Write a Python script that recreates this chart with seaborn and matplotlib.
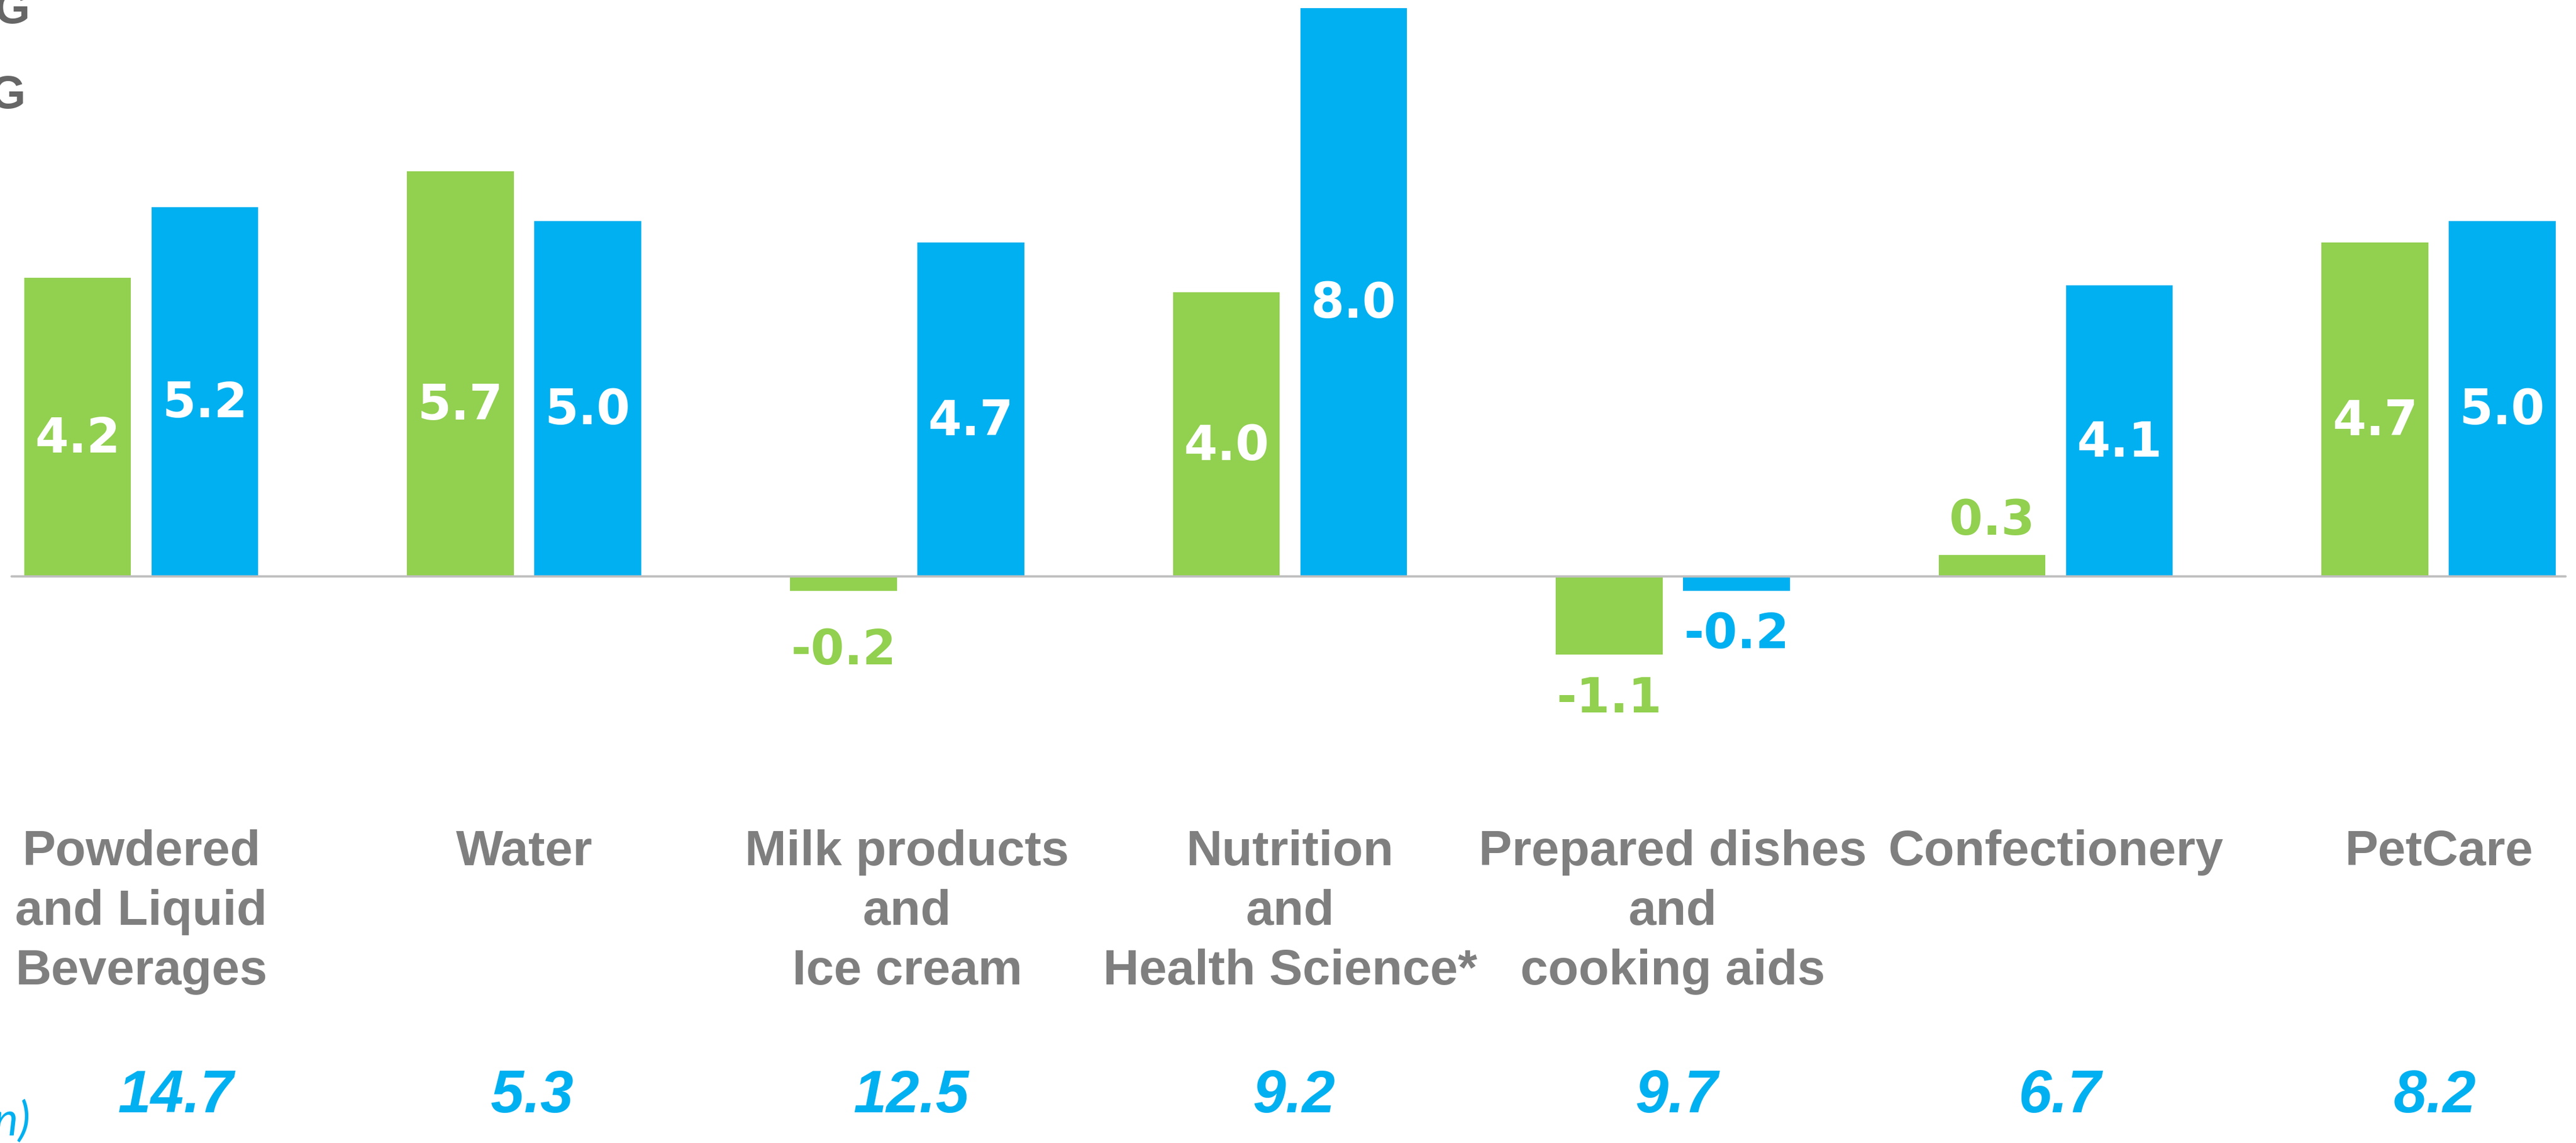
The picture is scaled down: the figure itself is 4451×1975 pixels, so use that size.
import matplotlib
matplotlib.use("Agg")
import matplotlib.pyplot as plt
import seaborn as sns
import pandas as pd
from matplotlib import font_manager as fm
from matplotlib.transforms import blended_transform_factory

# ---------------- data ----------------
categories = [
    "Powdered\nand Liquid\nBeverages",
    "Water",
    "Milk products\nand\nIce cream",
    "Nutrition\nand\nHealth Science*",
    "Prepared dishes\nand\ncooking aids",
    "Confectionery",
    "PetCare",
]
series_names = ["RIG", "OG"]
rig_values = [4.2, 5.7, -0.2, 4.0, -1.1, 0.3, 4.7]
og_values = [5.2, 5.0, 4.7, 8.0, -0.2, 4.1, 5.0]
sales_values = [14.7, 5.3, 12.5, 9.2, 9.7, 6.7, 8.2]
legend_labels = ["OG", "RIG"]
sales_caption = "Sales (in CHF bn)"

GREEN = "#92D050"
BLUE = "#00B0F0"
GRAY = "#7F7F7F"

df = pd.DataFrame({
    "category": categories * 2,
    "series": [series_names[0]] * len(categories) + [series_names[1]] * len(categories),
    "value": rig_values + og_values,
})

# ---------------- figure ----------------
W, H, DPI = 4451, 1975, 100
sns.set_style("white")
plt.rcParams["font.family"] = ["Liberation Sans", "DejaVu Sans"]

fig = plt.figure(figsize=(W / DPI, H / DPI), dpi=DPI)
ax = fig.add_axes([0, 0, 1, 1])

sns.barplot(
    data=df, x="category", y="value", hue="series",
    hue_order=series_names, order=categories,
    palette={series_names[0]: GREEN, series_names[1]: BLUE},
    width=0.665, gap=0.161, saturation=1, errorbar=None,
    linewidth=0, legend=False, ax=ax,
)

# geometry: baseline at y=996 px, 122.75 px per unit; group 0 centre at 244 px, 661.6 px per group
PX_PER_UNIT = 122.75
BASE_PX = 996
ax.set_ylim(-(H - BASE_PX) / PX_PER_UNIT, BASE_PX / PX_PER_UNIT)
G0, GSTEP = 244.1, 661.6
ax.set_xlim(-G0 / GSTEP, (W - G0) / GSTEP)
ax.axis("off")

ax.axhline(0, xmin=20 / W, xmax=4433 / W, color="#BFBFBF", lw=2.8, zorder=3)

# ---------------- value labels ----------------
label_font = dict(family=["DejaVu Sans"], weight="bold", size=60)
inside_shift = -0.1
inside_shift_override = {(0, 1): -0.38}
outside_gap = 0.55
outside_gap_override = {(0, 2): 0.78}
colors = [GREEN, BLUE]
for si, cont in enumerate(ax.containers):
    for ci, bar in enumerate(cont.patches):
        v = bar.get_height()
        cx = bar.get_x() + bar.get_width() / 2
        txt = f"{v:.1f}"
        if v >= 1.0:
            y = v / 2 + inside_shift_override.get((si, ci), inside_shift)
            ax.text(cx, y, txt, ha="center", va="center_baseline",
                    color="white", zorder=4, **label_font)
        else:
            g = outside_gap_override.get((si, ci), outside_gap)
            y = v - g if v < 0 else v + g
            ax.text(cx, y, txt, ha="center", va="center_baseline",
                    color=colors[si], zorder=4, **label_font)

# ---------------- category labels & sales ----------------
names = {f.name for f in fm.fontManager.ttflist}
if "Liberation Sans Narrow" in names:
    cat_font = dict(family=["Liberation Sans Narrow"], size=71)
else:
    cat_font = dict(family=["Liberation Sans"], size=62)

bt = blended_transform_factory(ax.transData, ax.transAxes)
for i, cat in enumerate(categories):
    ax.text(i, 1 - 1433 / H, cat, transform=bt, ha="center", va="top",
            color=GRAY, weight="bold", linespacing=1.37, multialignment="center",
            **cat_font)

sales_x_nudge = [0.09, 0.02, 0.01, 0.01, 0.01, 0.01, -0.01]
for i, s in enumerate(sales_values):
    ax.text(i + sales_x_nudge[i], 1 - 1922 / H, f"{s:.1f}", transform=bt,
            ha="center", va="baseline",
            color=BLUE, weight="bold", style="italic", size=74,
            family=["Liberation Sans"])

# caption (mostly cut off at the left edge, as in the reference)
fig.text(52 / W, 1 - 1962 / H, sales_caption, ha="right", va="baseline",
         color=BLUE, style="italic", size=58, family=["Lato", "DejaVu Sans"])

# legend labels (cut off at the left / top edge, as in the reference)
fig.text(53 / W, 1 - 40 / H, legend_labels[0], ha="right", va="baseline",
         color="#666666", weight="bold", size=57, family=["Liberation Sans"])
fig.text(45 / W, 1 - 187 / H, legend_labels[1], ha="right", va="baseline",
         color="#666666", weight="bold", size=57, family=["Liberation Sans"])

fig.savefig("out.png", dpi=DPI, facecolor="white")
